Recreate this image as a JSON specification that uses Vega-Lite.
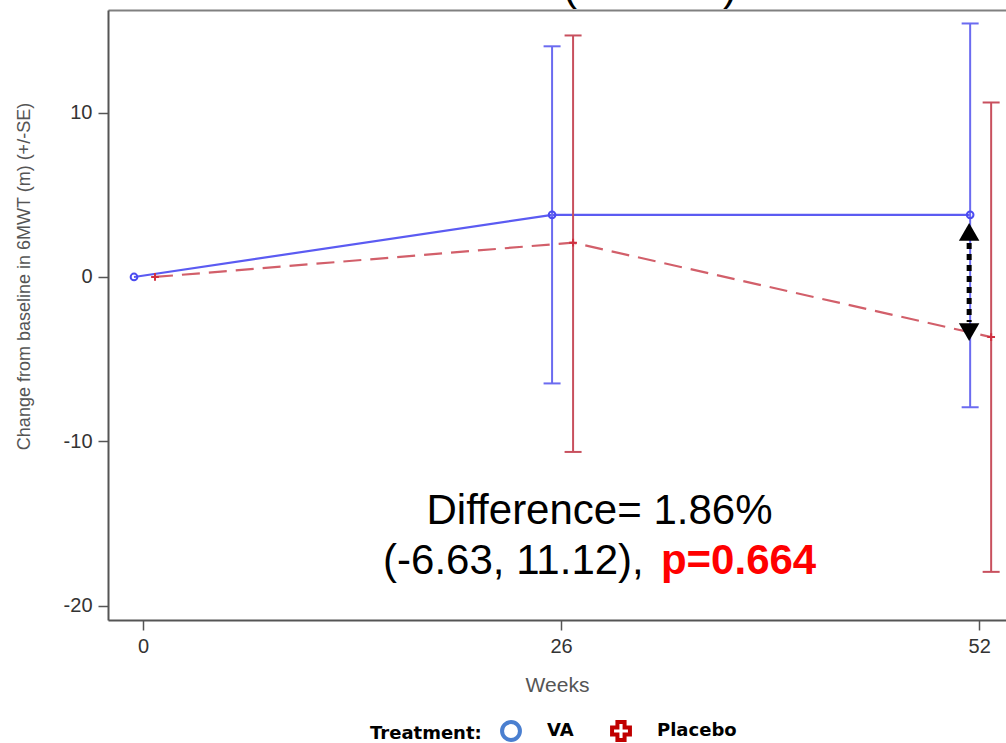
{
  "$schema": "https://vega.github.io/schema/vega-lite/v6.json",
  "width": 898,
  "height": 610,
  "autosize": {"type": "none"},
  "padding": {"left": 108, "top": 10, "right": 0, "bottom": 123},
  "background": "white",
  "config": {
    "view": {"stroke": null},
    "font": "Liberation Sans",
    "axis": {"grid": false}
  },
  "datasets": {
    "means": [
      {"treatment": "VA", "week": 0, "mean": 0},
      {"treatment": "VA", "week": 26, "mean": 3.78, "lower": -6.48, "upper": 14.04},
      {"treatment": "VA", "week": 52, "mean": 3.78, "lower": -7.93, "upper": 15.43},
      {"treatment": "Placebo", "week": 0, "mean": 0},
      {"treatment": "Placebo", "week": 26, "mean": 2.09, "lower": -10.65, "upper": 14.7},
      {"treatment": "Placebo", "week": 52, "mean": -3.66, "lower": -17.95, "upper": 10.62}
    ],
    "arrow": [{"week": 52, "top": 2.07, "bottom": -2.74}],
    "heads": [
      {"week": 52, "y": 2.74, "dir": "up"},
      {"week": 52, "y": -3.35, "dir": "down"}
    ],
    "notes": [
      {"week": 28.39, "y": -15.06, "label": "Difference= 1.86%", "kind": "head"},
      {"week": 14.93, "y": -18.11, "label": "(-6.63, 11.12),", "kind": "ci"},
      {"week": 32.21, "y": -18.11, "label": "p=0.664", "kind": "p"},
      {"week": 26.55, "y": 16.86, "label": "(", "kind": "clip"},
      {"week": 36.5, "y": 16.86, "label": ")", "kind": "clip"}
    ]
  },
  "resolve": {"axis": {"x": "independent"}},
  "layer": [
    {
      "encoding": {
        "x": {
          "field": "week",
          "type": "quantitative",
          "scale": {"domain": [-2.177, 53.67], "nice": false, "zero": false},
          "axis": {
            "orient": "bottom",
            "values": [0, 26, 52],
            "labelExpr": "'' + datum.value",
            "labelFontSize": 20,
            "labelColor": "#333333",
            "labelPadding": 6,
            "tickSize": 10,
            "tickWidth": 1.5,
            "tickColor": "#555555",
            "domainColor": "#555555",
            "domainWidth": 2,
            "title": "Weeks",
            "titleFontSize": 21,
            "titleFontWeight": "normal",
            "titleColor": "#555555",
            "titleY": 71,
            "titleBaseline": "alphabetic"
          }
        }
      },
      "layer": [
        {
          "data": {"name": "means"},
          "transform": [{"filter": "datum.treatment === 'VA'"}],
          "layer": [
            {
              "mark": {"type": "line", "color": "#5b5bf2", "strokeWidth": 2.2, "xOffset": -9},
              "encoding": {
                "y": {
                  "field": "mean",
                  "type": "quantitative",
                  "scale": {"domain": [-20.88, 16.25], "nice": false, "zero": false},
                  "axis": {
                    "values": [-20, -10, 0, 10],
                    "labelExpr": "'' + datum.value",
                    "labelFontSize": 20,
                    "labelColor": "#333333",
                    "labelPadding": 6,
                    "tickSize": 10,
                    "tickWidth": 1.5,
                    "tickColor": "#555555",
                    "domainColor": "#555555",
                    "domainWidth": 2,
                    "title": "Change from baseline in 6MWT (m) (+/-SE)",
                    "titleFontSize": 18,
                    "titleFontWeight": "normal",
                    "titleColor": "#555555",
                    "titleX": -84,
                    "titleY": 266,
                    "titleBaseline": "middle"
                  }
                }
              }
            },
            {
              "transform": [{"filter": "isValid(datum.lower)"}],
              "mark": {"type": "rule", "color": "#6b6bf0", "strokeWidth": 2, "xOffset": -9},
              "encoding": {
                "y": {"field": "lower", "type": "quantitative", "scale": {"domain": [-20.88, 16.25], "nice": false, "zero": false}},
                "y2": {"field": "upper"}
              }
            },
            {
              "transform": [{"filter": "isValid(datum.upper)"}],
              "mark": {"type": "tick", "orient": "horizontal", "color": "#6b6bf0", "size": 17, "thickness": 2, "xOffset": -9, "opacity": 1},
              "encoding": {
                "y": {"field": "upper", "type": "quantitative", "scale": {"domain": [-20.88, 16.25], "nice": false, "zero": false}}
              }
            },
            {
              "transform": [{"filter": "isValid(datum.lower)"}],
              "mark": {"type": "tick", "orient": "horizontal", "color": "#6b6bf0", "size": 17, "thickness": 2, "xOffset": -9, "opacity": 1},
              "encoding": {
                "y": {"field": "lower", "type": "quantitative", "scale": {"domain": [-20.88, 16.25], "nice": false, "zero": false}}
              }
            },
            {
              "mark": {"type": "point", "shape": "circle", "filled": false, "stroke": "#4b4bf0", "strokeWidth": 2, "size": 45, "xOffset": -9, "opacity": 1},
              "encoding": {
                "y": {"field": "mean", "type": "quantitative", "scale": {"domain": [-20.88, 16.25], "nice": false, "zero": false}}
              }
            }
          ]
        },
        {
          "data": {"name": "means"},
          "transform": [{"filter": "datum.treatment === 'Placebo'"}],
          "layer": [
            {
              "mark": {"type": "line", "color": "#d25f6a", "strokeWidth": 2.2, "strokeDash": [18, 9], "xOffset": 12},
              "encoding": {
                "y": {"field": "mean", "type": "quantitative", "scale": {"domain": [-20.88, 16.25], "nice": false, "zero": false}}
              }
            },
            {
              "transform": [{"filter": "isValid(datum.lower)"}],
              "mark": {"type": "rule", "color": "#c8505e", "strokeWidth": 2, "xOffset": 12},
              "encoding": {
                "y": {"field": "lower", "type": "quantitative", "scale": {"domain": [-20.88, 16.25], "nice": false, "zero": false}},
                "y2": {"field": "upper"}
              }
            },
            {
              "transform": [{"filter": "isValid(datum.upper)"}],
              "mark": {"type": "tick", "orient": "horizontal", "color": "#c8505e", "size": 17, "thickness": 2, "xOffset": 12, "opacity": 1},
              "encoding": {
                "y": {"field": "upper", "type": "quantitative", "scale": {"domain": [-20.88, 16.25], "nice": false, "zero": false}}
              }
            },
            {
              "transform": [{"filter": "isValid(datum.lower)"}],
              "mark": {"type": "tick", "orient": "horizontal", "color": "#c8505e", "size": 17, "thickness": 2, "xOffset": 12, "opacity": 1},
              "encoding": {
                "y": {"field": "lower", "type": "quantitative", "scale": {"domain": [-20.88, 16.25], "nice": false, "zero": false}}
              }
            },
            {
              "mark": {"type": "point", "shape": "M -1 0 L 1 0 M 0 -1 L 0 1", "filled": false, "stroke": "#d03040", "strokeWidth": 2, "size": 60, "xOffset": 12, "opacity": 1},
              "encoding": {
                "y": {"field": "mean", "type": "quantitative", "scale": {"domain": [-20.88, 16.25], "nice": false, "zero": false}}
              }
            }
          ]
        },
        {
          "data": {"name": "means"},
          "mark": {"type": "point", "filled": false, "opacity": 0},
          "encoding": {
            "y": {"field": "mean", "type": "quantitative", "scale": {"domain": [-20.88, 16.25], "nice": false, "zero": false}},
            "shape": {
              "field": "treatment",
              "type": "nominal",
              "scale": {"domain": ["VA", "Placebo"], "range": ["circle", "cross"]},
              "legend": {
                "orient": "none",
                "legendX": 262,
                "legendY": 710,
                "direction": "horizontal",
                "title": "Treatment:",
                "titleOrient": "left",
                "titleFont": "DejaVu Sans",
                "titleFontSize": 18,
                "titleFontWeight": "bold",
                "titleColor": "black",
                "titlePadding": 18,
                "labelFont": "DejaVu Sans",
                "labelFontSize": 18,
                "labelFontWeight": "bold",
                "labelColor": "black",
                "labelOffset": 25,
                "columnPadding": 30,
                "symbolSize": 320,
                "symbolStrokeWidth": 4,
                "symbolFillColor": "white",
                "encode": {"symbols": {"update": {"opacity": {"value": 1}}}}
              }
            },
            "stroke": {
              "field": "treatment",
              "type": "nominal",
              "scale": {"domain": ["VA", "Placebo"], "range": ["#4a7fd0", "#c00000"]},
              "legend": null
            }
          }
        },
        {
          "data": {"name": "arrow"},
          "mark": {"type": "rule", "color": "black", "strokeWidth": 5, "strokeDash": [6, 5], "xOffset": -10},
          "encoding": {
            "y": {"field": "top", "type": "quantitative", "scale": {"domain": [-20.88, 16.25], "nice": false, "zero": false}},
            "y2": {"field": "bottom"}
          }
        },
        {
          "data": {"name": "heads"},
          "transform": [{"filter": "datum.dir === 'up'"}],
          "mark": {"type": "point", "shape": "triangle-up", "filled": true, "color": "black", "size": 420, "xOffset": -10, "opacity": 1},
          "encoding": {
            "y": {"field": "y", "type": "quantitative", "scale": {"domain": [-20.88, 16.25], "nice": false, "zero": false}}
          }
        },
        {
          "data": {"name": "heads"},
          "transform": [{"filter": "datum.dir === 'down'"}],
          "mark": {"type": "point", "shape": "triangle-down", "filled": true, "color": "black", "size": 420, "xOffset": -10, "opacity": 1},
          "encoding": {
            "y": {"field": "y", "type": "quantitative", "scale": {"domain": [-20.88, 16.25], "nice": false, "zero": false}}
          }
        },
        {
          "data": {"name": "notes"},
          "transform": [{"filter": "datum.kind === 'head' || datum.kind === 'clip'"}],
          "mark": {"type": "text", "font": "Liberation Sans", "fontSize": 42, "align": "center", "baseline": "alphabetic", "color": "black"},
          "encoding": {
            "y": {"field": "y", "type": "quantitative", "scale": {"domain": [-20.88, 16.25], "nice": false, "zero": false}},
            "text": {"field": "label"}
          }
        },
        {
          "data": {"name": "notes"},
          "transform": [{"filter": "datum.kind === 'ci'"}],
          "mark": {"type": "text", "font": "Liberation Sans", "fontSize": 42, "align": "left", "baseline": "alphabetic", "color": "black"},
          "encoding": {
            "y": {"field": "y", "type": "quantitative", "scale": {"domain": [-20.88, 16.25], "nice": false, "zero": false}},
            "text": {"field": "label"}
          }
        },
        {
          "data": {"name": "notes"},
          "transform": [{"filter": "datum.kind === 'p'"}],
          "mark": {"type": "text", "font": "Liberation Sans", "fontSize": 42, "fontWeight": "bold", "align": "left", "baseline": "alphabetic", "color": "#ff0000"},
          "encoding": {
            "y": {"field": "y", "type": "quantitative", "scale": {"domain": [-20.88, 16.25], "nice": false, "zero": false}},
            "text": {"field": "label"}
          }
        }
      ]
    },
    {
      "data": {"values": [{"week": 0}]},
      "mark": {"type": "rule", "opacity": 0},
      "encoding": {
        "x": {
          "field": "week",
          "type": "quantitative",
          "scale": {"domain": [-2.177, 53.67], "nice": false, "zero": false},
          "axis": {"orient": "top", "labels": false, "ticks": false, "title": null, "domain": true, "domainColor": "#808080", "domainWidth": 2, "grid": false}
        }
      }
    }
  ]
}
